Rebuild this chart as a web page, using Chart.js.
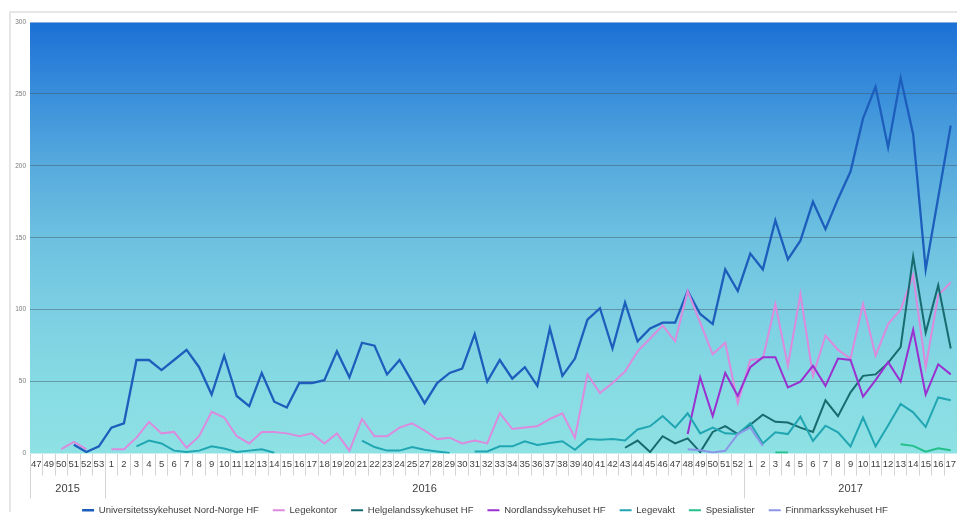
<!DOCTYPE html>
<html>
<head>
<meta charset="utf-8">
<script src="https://cdn.jsdelivr.net/npm/chart.js@4/dist/chart.umd.min.js"></script>
<style>
  html, body { margin: 0; padding: 0; background: #fff; }
  canvas { display: block; }
</style>
</head>
<body>
<canvas id="myChart" width="957" height="521"></canvas>
<script>
// week numbers on the x axis (2016 has no week 26 in the source)
const weeks2015 = ['47', '49', '50', '51', '52', '53'];
const weeks2016 = ['1', '2', '3', '4', '5', '6', '7', '8', '9', '10', '11', '12', '13', '14', '15', '16', '17', '18', '19', '20',
  '21', '22', '23', '24', '25', '27', '28', '29', '30', '31', '32', '33', '34', '35', '36', '37', '38', '39', '40', '41',
  '42', '43', '44', '45', '46', '47', '48', '49', '50', '51', '52'];
const weeks2017 = ['1', '2', '3', '4', '5', '6', '7', '8', '9', '10', '11', '12', '13', '14', '15', '16', '17'];
const years = ['2015', '2016', '2017'];

const yTicks = [0, 50, 100, 150, 200, 250, 300];

// one line per year: 2015 / 2016 / 2017
const unn = [
  null, null, null, 6, 1, 5,
  18, 21, 65, 65, 58, 65, 72, 60, 41, 68, 40, 33, 56, 36, 32, 49, 49, 51, 71, 53, 77, 75, 55, 65, 50,
  35, 49, 56, 59, 83, 50, 65, 52, 60, 47, 87, 54, 66, 93, 101, 73, 105, 78, 87, 91, 91, 113, 97, 90, 128, 113,
  139, 128, 162, 135, 148, 175, 156, 177, 196, 233, 255, 213, 261, 222, 128, 178, 228
];
const legekontor = [
  null, null, 3, 8, 3, null,
  3, 3, 11, 22, 14, 15, 4, 12, 29, 25, 12, 7, 15, 15, 14, 12, 14, 7, 14, 2, 24, 12, 12, 18, 21,
  16, 10, 11, 7, 9, 7, 28, 17, 18, 19, 24, 28, 11, 55, 42, 49, 57, 71, 80, 89, 78, 113, 91, 69, 77, 35,
  65, 66, 104, 61, 111, 54, 82, 72, 66, 104, 68, 90, 100, 124, 60, 110, 119
];
const helgeland = [
  null, null, null, null, null, null,
  null, null, null, null, null, null, null, null, null, null, null, null, null, null, null, null, null, null, null, null, null, null, null, null, null,
  null, null, null, null, null, null, null, null, null, null, null, null, null, null, null, null, 4, 9, 1, 12, 7, 10.5, 1, 15, 19, 13.5,
  20, 27, 22, 21.5, 18, 15, 37, 26, 42.5, 54, 55, 63, 74, 137, 84, 117, 73
];
const nordland = [
  null, null, null, null, null, null,
  null, null, null, null, null, null, null, null, null, null, null, null, null, null, null, null, null, null, null, null, null, null, null, null, null,
  null, null, null, null, null, null, null, null, null, null, null, null, null, null, null, null, null, null, null, null, null, 13.5, 53, 26, 56, 40,
  60, 67, 67, 46, 50, 61, 47, 66, 65, 39.5, 51, 63.5, 50, 86, 41, 62, 55
];
const legevakt = [
  null, null, null, null, null, null,
  null, null, 5, 9, 7, 2, 1, 2, 5, 3.5, 1, 2, 3, 0.5, null, null, null, null, null, null, 9, 4.5, 2, 2, 4.5,
  2.6, 1.4, 0.3, null, 1.4, 1.4, 5, 5, 8.5, 6, 7.3, 8.5, 2.6, 10, 9.6, 10, 9, 16.7, 19, 26, 18, 28, 14, 18, 14, 13.5,
  21, 7, 14.7, 13.5, 25.6, 8.8, 19.3, 14.7, 5, 25, 5, 19.5, 34.4, 28.6, 18.5, 39, 37
];
const spesialister = [
  null, null, null, null, null, null,
  null, null, null, null, null, null, null, null, null, null, null, null, null, null, null, null, null, null, null, null, null, null, null, null, null,
  null, null, null, null, null, null, null, null, null, null, null, null, null, null, null, null, null, null, null, null, null, null, null, null, null, null,
  null, null, 0.7, 0.7, null, null, null, null, null, null, null, null, 6.5, 5.3, 1.2, 3.7, 2.3
];
const finnmark = [
  null, null, null, null, null, null,
  null, null, null, null, null, null, null, null, null, null, null, null, null, null, null, null, null, null, null, null, null, null, null, null, null,
  null, null, null, null, null, null, null, null, null, null, null, null, null, null, null, null, null, null, null, null, null, 3, 2.3, 0.7, 1.9, 13.5,
  18, 5.3, null, null, null, null, null, null, null, null, null, null, null, null, null, null, null
];

const font = "'Liberation Sans', Arial, sans-serif";
const labels = weeks2015.concat(weeks2016, weeks2017);
const yearSizes = [weeks2015.length, weeks2016.length, weeks2017.length];

const series = [
  ['Universitetssykehuset Nord-Norge HF', unn, '#1d5ebd'],
  ['Legekontor', legekontor, '#dc8ade'],
  ['Helgelandssykehuset HF', helgeland, '#176b6e'],
  ['Nordlandssykehuset HF', nordland, '#9a30cf'],
  ['Legevakt', legevakt, '#20a6b2'],
  ['Spesialister', spesialister, '#25bf8b'],
  ['Finnmarkssykehuset HF', finnmark, '#8b97e6']
];

// white page, faint frame and the blue gradient behind the plot
const backdrop = {
  id: 'backdrop',
  beforeDraw(chart) {
    const { ctx, chartArea: a } = chart;
    ctx.save();
    ctx.fillStyle = '#fff';
    ctx.fillRect(0, 0, chart.width, chart.height);
    ctx.strokeStyle = '#e6e6e6';
    ctx.lineWidth = 2;
    ctx.beginPath();
    ctx.moveTo(10, 512);
    ctx.lineTo(10, 12);
    ctx.lineTo(chart.width, 12);
    ctx.stroke();
    const g = ctx.createLinearGradient(0, a.top, 0, a.bottom);
    g.addColorStop(0, '#1b70d5');
    g.addColorStop(0.17, '#3a8fdb');
    g.addColorStop(0.33, '#56aadd');
    g.addColorStop(0.5, '#6dc1e0');
    g.addColorStop(0.67, '#7ccfe2');
    g.addColorStop(0.83, '#86dae3');
    g.addColorStop(1, '#8ee2e4');
    ctx.fillStyle = g;
    ctx.fillRect(a.left, a.top, a.right - a.left, a.bottom - a.top);
    ctx.restore();
  }
};

// second row of the category axis: the years
const yearAxis = {
  id: 'yearAxis',
  afterDraw(chart) {
    const x = chart.scales.x;
    const ctx = chart.ctx;
    const half = (x.getPixelForValue(1) - x.getPixelForValue(0)) / 2;
    let start = 0;
    ctx.save();
    ctx.strokeStyle = '#d4d4d4';
    ctx.lineWidth = 1;
    ctx.fillStyle = '#404040';
    ctx.font = '11px ' + font;
    ctx.textAlign = 'center';
    ctx.textBaseline = 'middle';
    years.forEach((year, i) => {
      const n = yearSizes[i];
      const left = x.getPixelForValue(start) - half;
      const right = x.getPixelForValue(start + n - 1) + half;
      ctx.beginPath();
      ctx.moveTo(Math.round(left) + 0.5, x.top);
      ctx.lineTo(Math.round(left) + 0.5, x.top + 45);
      ctx.stroke();
      ctx.fillText(year, (left + right) / 2, x.top + 35);
      start += n;
    });
    ctx.restore();
  }
};

const ctx = document.getElementById('myChart').getContext('2d');
const myChart = new Chart(ctx, {
  type: 'line',
  data: {
    labels: labels,
    datasets: series.map(([label, data, color], i) => ({
      label: label,
      data: data,
      borderColor: color,
      backgroundColor: color,
      borderWidth: i === 0 ? 2.3 : 2,
      pointRadius: 0,
      pointHoverRadius: 0,
      tension: 0,
      spanGaps: false,
      order: series.length - i
    }))
  },
  options: {
    responsive: false,
    animation: false,
    layout: { padding: { top: 22, left: 13, right: 0, bottom: -4 } },
    plugins: {
      tooltip: { enabled: false },
      legend: {
        position: 'bottom',
        labels: {
          usePointStyle: true,
          pointStyle: 'line',
          pointStyleWidth: 12,
          padding: 14,
          color: '#404040',
          font: { family: font, size: 9.5 },
          sort: (a, b) => a.datasetIndex - b.datasetIndex
        }
      }
    },
    scales: {
      x: {
        offset: true,
        border: { display: false },
        grid: {
          offset: true,
          drawOnChartArea: false,
          tickLength: 22,
          color: '#d4d4d4'
        },
        ticks: {
          autoSkip: false,
          maxRotation: 0,
          minRotation: 0,
          padding: -17,
          color: '#404040',
          font: { family: font, size: 9.5 }
        },
        afterFit: (scale) => { scale.height = 38; }
      },
      y: {
        min: 0,
        max: 300,
        border: { display: false },
        afterBuildTicks: (scale) => { scale.ticks = yTicks.map(v => ({ value: v })); },
        grid: {
          drawTicks: false,
          color: (c) => c.tick.value === 0 ? 'rgba(0,0,0,0)' : (c.tick.value === 300 ? 'rgba(150,180,225,0.9)' : 'rgba(70,90,105,0.5)')
        },
        ticks: {
          padding: 4,
          color: '#7a7a7a',
          font: { family: font, size: 6.5 }
        },
        afterFit: (scale) => { scale.width = 17; }
      }
    }
  },
  plugins: [backdrop, yearAxis]
});
</script>
</body>
</html>
